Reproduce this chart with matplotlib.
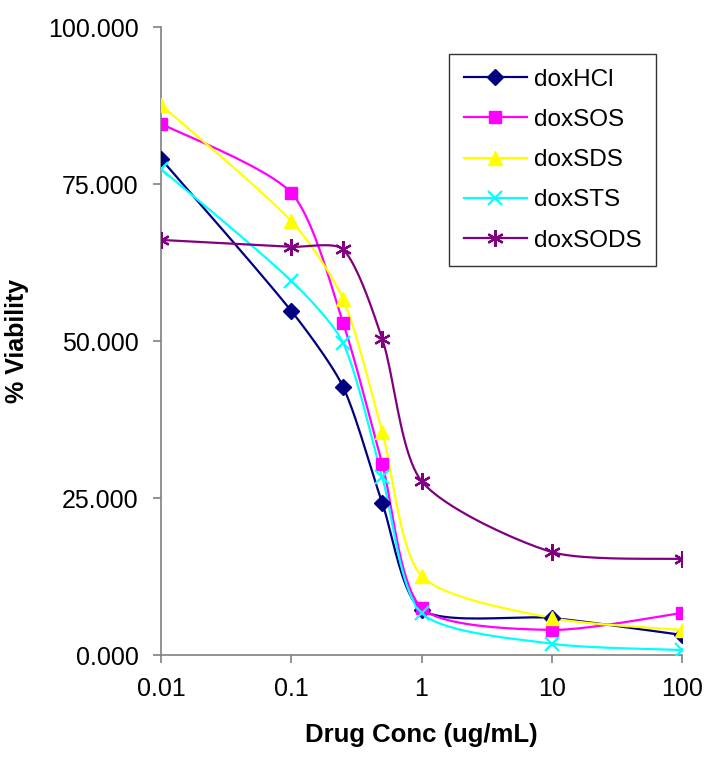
import numpy as np
import matplotlib
matplotlib.use('Agg')
import matplotlib.pyplot as plt
from matplotlib.ticker import FixedLocator, FixedFormatter, NullLocator

plt.rcParams['font.family'] = ['Liberation Sans', 'DejaVu Sans']

# Concentrations (ug/mL) and % viability
conc = [0.01, 0.1, 0.25, 0.5, 1, 10, 100]
dox_hcl = [79.0, 54.8, 42.7, 24.2, 7.2, 5.9, 3.2]
dox_sos = [84.6, 73.6, 52.9, 30.4, 7.5, 4.0, 6.7]
dox_sds = [87.6, 69.1, 56.7, 35.5, 12.6, 5.9, 4.0]
dox_sts = [77.4, 59.6, 49.7, 28.3, 6.7, 1.8, 0.8]
dox_sods = [66.1, 65.0, 64.6, 50.3, 27.7, 16.4, 15.3]

series = [
    ('doxHCl', dox_hcl, '#000080', 'D', 8.5),
    ('doxSOS', dox_sos, '#FF00FF', 's', 8.5),
    ('doxSDS', dox_sds, '#FFFF00', '^', 10.5),
    ('doxSTS', dox_sts, '#00FFFF', 'x', 10.5),
    ('doxSODS', dox_sods, '#800080', (6, 2, 0), 12),
]

x_ticks = [0.01, 0.1, 1, 10, 100]
x_tick_labels = ['0.01', '0.1', '1', '10', '100']
y_ticks = [0, 25, 50, 75, 100]

# pixel scale, only used to smooth the line the way Excel does
SX, SY = 130.0, 6.28
TENSION = 0.25


def smooth(xs, ys, n=24):
    u = np.log10(xs) * SX
    v = np.asarray(ys) * SY
    pts = np.column_stack([u, v])
    out = [pts[0]]
    for i in range(len(pts) - 1):
        p1 = pts[i]
        p2 = pts[i + 1]
        d12 = np.hypot(*(p2 - p1))
        if i > 0:
            p0 = pts[i - 1]
            d01 = np.hypot(*(p1 - p0))
            c1 = p1 + (p2 - p0) * d12 / (d01 + d12) * TENSION
        else:
            c1 = p1 + (p2 - p1) * TENSION / 2
        if i + 2 < len(pts):
            p3 = pts[i + 2]
            d23 = np.hypot(*(p3 - p2))
            c2 = p2 - (p3 - p1) * d12 / (d12 + d23) * TENSION
        else:
            c2 = p2 - (p2 - p1) * TENSION / 2
        t = np.linspace(0, 1, n)[1:, None]
        seg = ((1 - t) ** 3) * p1 + 3 * ((1 - t) ** 2) * t * c1 + 3 * (1 - t) * t ** 2 * c2 + t ** 3 * p2
        out.extend(seg)
    out = np.array(out)
    return 10 ** (out[:, 0] / SX), out[:, 1] / SY


fig = plt.figure(figsize=(7.08, 7.57), dpi=100)
ax = fig.add_axes([0.2274, 0.1347, 0.7359, 0.8296])

for name, vals, col, mk, ms in series:
    sx, sy = smooth(conc, vals)
    mew = 1.6 if mk in ('x', (6, 2, 0)) else 1.0
    ax.plot(sx, sy, color=col, lw=1.6, zorder=2)
    ax.plot(conc, vals, linestyle='none', marker=mk, color=col, markersize=ms,
            markeredgewidth=mew, zorder=3)
    # legend proxy
    ax.plot([], [], color=col, lw=1.6, marker=mk, markersize=ms,
            markeredgewidth=mew, label=name)

ax.set_xscale('log')
ax.set_xlim(0.01, 100)
ax.set_ylim(0, 100)
ax.xaxis.set_major_locator(FixedLocator(x_ticks))
ax.xaxis.set_major_formatter(FixedFormatter(x_tick_labels))
ax.xaxis.set_minor_locator(NullLocator())
ax.set_yticks(y_ticks)
ax.set_yticklabels(['%.3f' % t for t in y_ticks])

for s in ['top', 'right']:
    ax.spines[s].set_visible(False)
for s in ['left', 'bottom']:
    ax.spines[s].set_color('#808080')
    ax.spines[s].set_linewidth(1.2)
ax.tick_params(axis='both', direction='out', length=6, width=1.2, color='#808080',
               labelsize=18, pad=10)

ax.set_xlabel('Drug Conc (ug/mL)', fontsize=18.5, fontweight='bold', labelpad=16)
ax.set_ylabel('% Viability', fontsize=18, fontweight='bold', labelpad=14)

handles, labels = ax.get_legend_handles_labels()
leg = ax.legend(handles, labels,
                loc='upper left', bbox_to_anchor=(0.553, 0.957), fontsize=17.5,
                frameon=True, fancybox=False, edgecolor='black', labelspacing=0.75,
                handlelength=2.6, handletextpad=0.3, borderpad=0.6, borderaxespad=0)
leg.get_frame().set_linewidth(1.0)

fig.savefig('out.png', dpi=100)
